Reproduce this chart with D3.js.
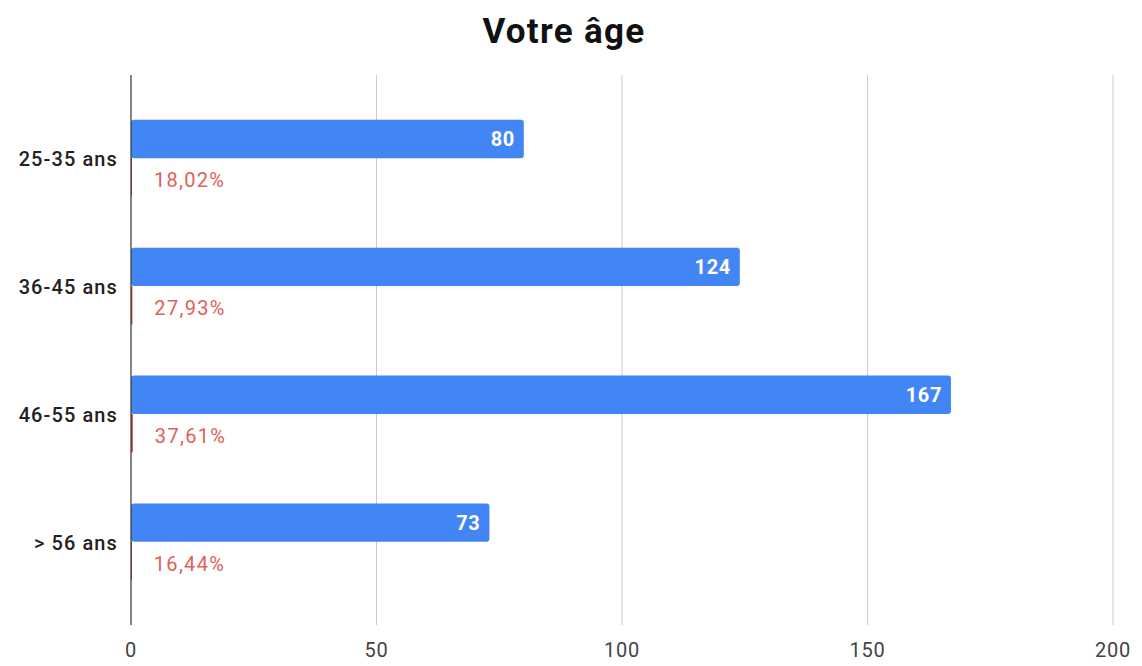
<!DOCTYPE html>
<html>
<head>
<meta charset="utf-8">
<script src="https://cdn.jsdelivr.net/npm/d3@7"></script>
<style>
  body { margin: 0; background: #fff; }
  text { font-family: Roboto, "Open Sans", sans-serif; }
</style>
</head>
<body>
<div id="chart"></div>
<script>
const categories = ["25-35 ans", "36-45 ans", "46-55 ans", "> 56 ans"];
const counts = [80, 124, 167, 73];
const shares = [0.1802, 0.2793, 0.3761, 0.1644];
const shareLabels = ["18,02%", "27,93%", "37,61%", "16,44%"];
const xTicks = [0, 50, 100, 150, 200];

const width = 1142, height = 666;
const plotLeft = 131, plotRight = 1113, plotTop = 75, plotBottom = 625;

let svg = d3.select("#chart").append("svg")
  .attr("width", width)
  .attr("height", height);

let x = d3.scaleLinear().domain([0, 200]).range([plotLeft, plotRight]);
let y = d3.scaleBand().domain(categories).range([plotTop, plotBottom])
  .paddingInner(0.4).paddingOuter(0.35);
let sub = d3.scaleBand().domain(["count", "share"]).range([0, y.bandwidth()]);

// title
svg.append("text")
  .attr("x", 564).attr("y", 43)
  .attr("text-anchor", "middle")
  .attr("font-size", 35).attr("font-weight", "bold")
  .attr("letter-spacing", 1.3)
  .attr("fill", "#111")
  .text("Votre âge");

// grid
svg.selectAll(".grid")
  .data(xTicks.slice(1))
  .enter().append("line")
  .attr("x1", d => x(d)).attr("x2", d => x(d))
  .attr("y1", plotTop).attr("y2", plotBottom)
  .attr("stroke", "#cccccc").attr("stroke-width", 1);

// tick labels
svg.selectAll(".tick")
  .data(xTicks)
  .enter().append("text")
  .attr("x", d => x(d)).attr("y", plotBottom + 32)
  .attr("text-anchor", "middle")
  .attr("font-size", 20).attr("letter-spacing", 0.8)
  .attr("fill", "#444")
  .text(d => d);

let rows = categories.map((c, i) => ({ c, n: counts[i], s: shares[i], lab: shareLabels[i] }));

// blue bars
svg.selectAll(".bar")
  .data(rows)
  .enter().append("rect")
  .attr("x", x(0))
  .attr("y", d => y(d.c) + sub("count"))
  .attr("width", d => x(d.n) - x(0))
  .attr("height", sub.bandwidth())
  .attr("rx", 3)
  .attr("fill", "#4285f4");

// red bars (percent share)
svg.selectAll(".bar2")
  .data(rows)
  .enter().append("rect")
  .attr("x", x(0))
  .attr("y", d => y(d.c) + sub("share"))
  .attr("width", d => Math.max(1, x(d.s) - x(0)))
  .attr("height", sub.bandwidth())
  .attr("fill", "#db4437");

// zero line
svg.append("line")
  .attr("x1", x(0)).attr("x2", x(0))
  .attr("y1", plotTop).attr("y2", plotBottom)
  .attr("stroke", "#333").attr("stroke-width", 1.2);

// value labels
svg.selectAll(".val")
  .data(rows)
  .enter().append("text")
  .attr("x", d => x(d.n) - 9)
  .attr("y", d => y(d.c) + sub("count") + sub.bandwidth() / 2 + 7)
  .attr("text-anchor", "end")
  .attr("font-size", 20).attr("font-weight", "bold")
  .attr("letter-spacing", 0.6)
  .attr("fill", "#fff")
  .text(d => d.n);

svg.selectAll(".pct")
  .data(rows)
  .enter().append("text")
  .attr("x", d => x(d.s) + 22)
  .attr("y", d => y(d.c) + sub("share") + sub.bandwidth() / 2 + 10)
  .attr("font-size", 20).attr("letter-spacing", 1.3)
  .attr("fill", "#e0605a")
  .text(d => d.lab);

// category labels
svg.selectAll(".cat")
  .data(rows)
  .enter().append("text")
  .attr("x", 118)
  .attr("y", d => y(d.c) + y.bandwidth() / 2 + 8)
  .attr("text-anchor", "end")
  .attr("font-size", 20).attr("font-weight", 500)
  .attr("letter-spacing", 1.1)
  .attr("fill", "#222")
  .text(d => d.c);
</script>
</body>
</html>
